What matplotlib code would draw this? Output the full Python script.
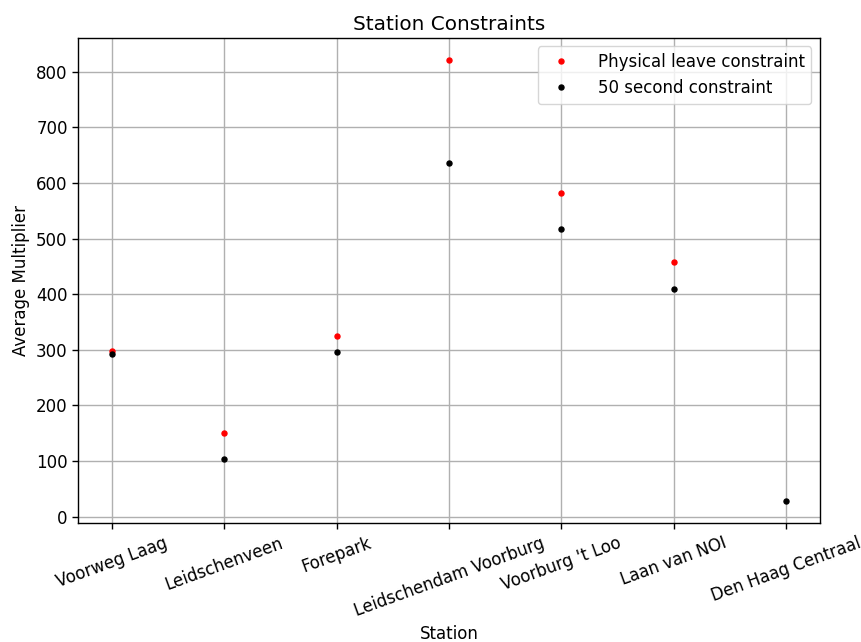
import numpy as np
import matplotlib
matplotlib.use('Agg')
import matplotlib.pyplot as plt

# Station names along the line
stations = ['Voorweg Laag', 'Leidschenveen', 'Forepark', 'Leidschendam Voorburg',
            "Voorburg 't Loo", 'Laan van NOI', 'Den Haag Centraal']

# Average multiplier per constraint (no physical value for the last station)
physical_leave = [298, 150, 324, 821, 582, 457, np.nan]
fifty_second = [292, 104, 296, 636, 517, 410, 28]

# everything in the reference looks ~1.2x the default size
plt.rcParams['font.size'] = 12
plt.rcParams['axes.linewidth'] = 1.0
plt.rcParams['xtick.major.size'] = 4.2
plt.rcParams['ytick.major.size'] = 4.2
plt.rcParams['xtick.major.width'] = 1.0
plt.rcParams['ytick.major.width'] = 1.0

fig, ax = plt.subplots(figsize=(8.61, 6.42), dpi=100)
fig.subplots_adjust(left=0.091, right=0.952, top=0.941, bottom=0.185)

x = np.arange(len(stations))
ax.plot(x, physical_leave, '.', color='red', markersize=7.2, label='Physical leave constraint')
ax.plot(x, fifty_second, '.', color='black', markersize=7.2, label='50 second constraint')

ax.set_xticks(x)
ax.set_xticklabels(stations, rotation=20)
ax.set_title('Station Constraints')
ax.set_xlabel('Station')
ax.set_ylabel('Average Multiplier')
ax.grid(True, color='#b0b0b0', linewidth=1.0)
ax.legend(loc='upper right', handletextpad=1.2)

fig.savefig('out.png', dpi=100)
